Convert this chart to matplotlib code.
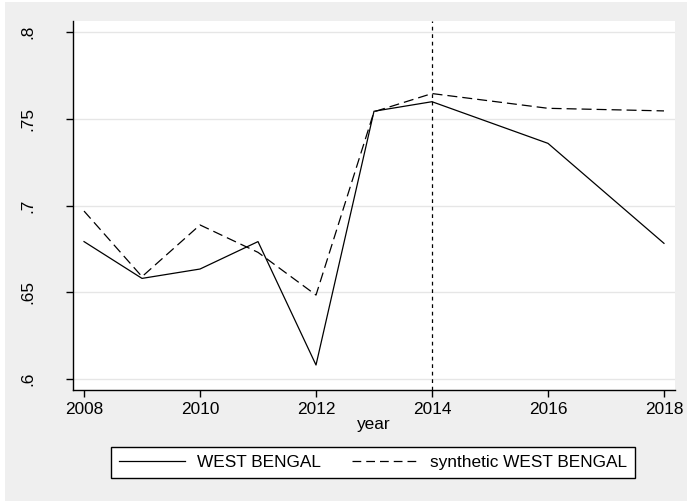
import matplotlib.pyplot as plt
from matplotlib.lines import Line2D
from matplotlib.patches import Rectangle

years = [2008, 2009, 2010, 2011, 2012, 2013, 2014, 2016, 2018]
west_bengal = [0.6792, 0.6580, 0.6634, 0.6792, 0.6081, 0.7543, 0.7598, 0.7358, 0.6782]
synthetic = [0.6968, 0.6590, 0.6888, 0.6730, 0.6484, 0.7540, 0.7645, 0.7560, 0.7545]
xticks = [2008, 2010, 2012, 2014, 2016, 2018]
yticks = [0.6, 0.65, 0.7, 0.75, 0.8]
ytick_labels = ['.6', '.65', '.7', '.75', '.8']
treat_year = 2014

plt.rcParams['font.family'] = ['Liberation Sans', 'DejaVu Sans']
fs = 12.4

fig = plt.figure(figsize=(6.87, 5.01), dpi=100)
fig.patch.set_facecolor('white')
# grey backdrop behind the plot region
bg = fig.add_axes([5 / 687, 0, 1, 1 - 2 / 501], zorder=-1)
bg.add_patch(Rectangle((0, 0), 1, 1, transform=bg.transAxes,
                       facecolor='#efefef', edgecolor='none'))
bg.axis('off')

ax = fig.add_axes([73 / 687, 1 - 390 / 501, 602 / 687, 369 / 501], zorder=1)
ax.set_facecolor('white')

ax.plot(years, west_bengal, color='black', lw=0.9, label='WEST BENGAL')
ax.plot(years, synthetic, color='black', lw=0.9, dashes=(8, 4), label='synthetic WEST BENGAL')
ax.axvline(treat_year, color='black', lw=0.9, dashes=(3, 3))

ax.set_xlim(2007.81, 2018.19)
ax.set_ylim(0.5937, 0.8063)
ax.set_xticks(xticks)
ax.set_yticks(yticks)
ax.set_yticklabels(ytick_labels, rotation=90, va='center')
ax.grid(axis='y', color='#e6e6e6', lw=1)
ax.set_axisbelow(True)

for s in ['top', 'right']:
    ax.spines[s].set_visible(False)
ax.spines['left'].set_linewidth(1.0)
ax.spines['bottom'].set_linewidth(1.0)

ax.tick_params(axis='y', length=5, width=1, pad=22, labelsize=fs)
ax.tick_params(axis='x', length=5, width=1, pad=4, labelsize=fs)
ax.set_xlabel('year', fontsize=fs, labelpad=0)

handles = [Line2D([], [], color='black', lw=0.9),
           Line2D([], [], color='black', lw=0.9, dashes=(7, 4))]
leg = fig.legend(handles, ['WEST BENGAL', 'synthetic WEST BENGAL'],
                 loc='center', bbox_to_anchor=(373 / 687, 1 - 462.5 / 501),
                 ncol=2, fontsize=fs, frameon=True, fancybox=False,
                 edgecolor='black', facecolor='white', framealpha=1,
                 handlelength=3.8, columnspacing=1.85,
                 borderpad=0.45, handletextpad=0.7, borderaxespad=0)
leg.get_frame().set_linewidth(1.0)

fig.savefig('out.png', dpi=100)
